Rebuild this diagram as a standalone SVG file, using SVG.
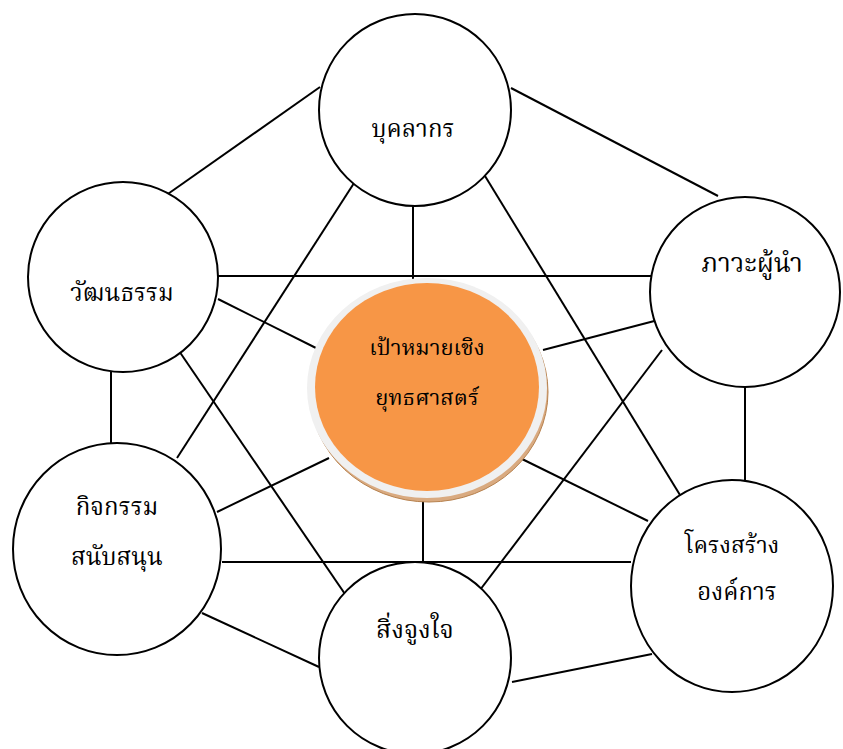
<svg xmlns="http://www.w3.org/2000/svg" width="843" height="749" viewBox="0 0 843 749">
<style>
.c{fill:#fff;stroke:#000;stroke-width:2}
.l{stroke:#000;stroke-width:2;fill:none}
.t{font-family:"Noto Serif Thai","Noto Sans Thai","Liberation Serif",serif;fill:#000;text-anchor:middle}
</style>
<rect width="843" height="749" fill="#fff"/>
<g id="connectors">
<line class="l" x1="320" y1="87" x2="165" y2="196"/>
<line class="l" x1="511" y1="88" x2="718" y2="196"/>
<line class="l" x1="413" y1="206" x2="413" y2="280"/>
<line class="l" x1="356" y1="180" x2="177" y2="458"/>
<line class="l" x1="485" y1="176" x2="680" y2="495"/>
<line class="l" x1="218" y1="276" x2="651" y2="276"/>
<line class="l" x1="218" y1="299" x2="320" y2="350"/>
<line class="l" x1="177" y1="348" x2="375" y2="638"/>
<line class="l" x1="111" y1="372" x2="111" y2="443"/>
<line class="l" x1="662" y1="319" x2="543" y2="350"/>
<line class="l" x1="662" y1="350" x2="455" y2="623"/>
<line class="l" x1="745" y1="387" x2="745" y2="481"/>
<line class="l" x1="217" y1="512" x2="329" y2="458"/>
<line class="l" x1="222" y1="562" x2="631" y2="562"/>
<line class="l" x1="202" y1="613" x2="319" y2="667"/>
<line class="l" x1="423" y1="494" x2="423" y2="562"/>
<line class="l" x1="522" y1="459" x2="648" y2="521"/>
<line class="l" x1="512" y1="682" x2="652" y2="654"/>
</g>
<g id="center">
<ellipse cx="429" cy="392" rx="119" ry="110" fill="#d9aa80" stroke="#b7824f" stroke-width="1"/>
<ellipse cx="427" cy="388" rx="120" ry="110" fill="#f0f0f0"/>
<ellipse cx="427" cy="387" rx="112" ry="104" fill="#f79646"/>
<text class="t" x="427" y="355" font-size="22">เป้าหมายเชิง</text>
<text class="t" x="427" y="405" font-size="22">ยุทธศาสตร์</text>
</g>
<g id="personnel">
<circle class="c" cx="415" cy="110" r="96"/>
<text class="t" x="413" y="137" font-size="24">บุคลากร</text>
</g>
<g id="leadership">
<circle class="c" cx="745" cy="292" r="95"/>
<text class="t" x="752" y="272" font-size="26">ภาวะผู้นำ</text>
</g>
<g id="culture">
<circle class="c" cx="123" cy="277" r="95"/>
<text class="t" x="122" y="301" font-size="24">วัฒนธรรม</text>
</g>
<g id="activities">
<ellipse class="c" cx="117" cy="549" rx="104" ry="106"/>
<text class="t" x="117" y="515" font-size="24">กิจกรรม</text>
<text class="t" x="117" y="565" font-size="24">สนับสนุน</text>
</g>
<g id="incentives">
<circle class="c" cx="415" cy="658" r="96"/>
<text class="t" x="415" y="638" font-size="25">สิ่งจูงใจ</text>
</g>
<g id="structure">
<ellipse class="c" cx="732" cy="586" rx="101" ry="106"/>
<text class="t" x="732" y="553" font-size="23">โครงสร้าง</text>
<text class="t" x="737" y="600" font-size="24">องค์การ</text>
</g>
</svg>
